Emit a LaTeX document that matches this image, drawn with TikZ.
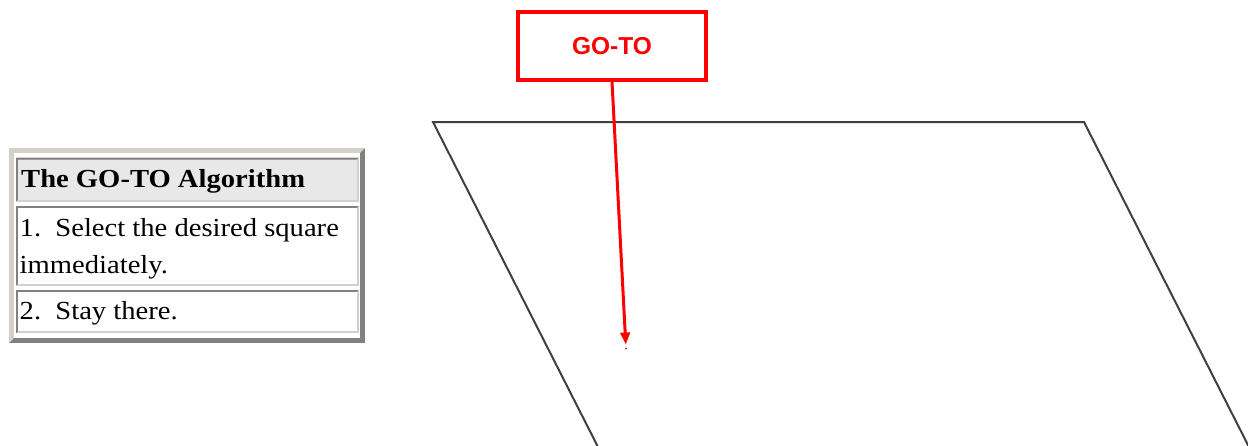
\documentclass[tikz,border=0pt]{standalone}
\usepackage{fontspec}
\setmainfont{Liberation Serif}[FakeStretch=1.1]
\newfontfamily\gotofont{Liberation Sans}
\usetikzlibrary{arrows.meta}
\definecolor{lightbd}{HTML}{D4D0C8}
\definecolor{darkbd}{HTML}{808080}
\definecolor{headfill}{HTML}{E8E8E8}
\definecolor{plane}{HTML}{404040}
\tikzset{
  celltext/.style={anchor=base west, inner sep=0pt, font=\fontsize{26}{31}\selectfont},
  gotobox/.style={draw=red, line width=3.5pt, minimum width=188pt, minimum height=68pt, inner sep=0pt,
    font=\gotofont\bfseries\fontsize{24.5}{28}\selectfont, text=red},
  gotoarrow/.style={draw=red, line width=3pt, -{Triangle[length=12pt,width=9.5pt]}},
  planeline/.style={draw=plane, line width=2pt, line join=miter},
}
\newcommand{\tblcell}[5]{%
  \fill[lightbd] (#1,#2) rectangle (#3,#4);
  \fill[darkbd] (#1,#2) -- (#3,#2) -- (#3-2,#2+2) -- (#1+2,#2+2) -- (#1+2,#4-2) -- (#1,#4) -- cycle;
  \fill[#5] (#1+2,#2+2) rectangle (#3-2,#4-2);}
\begin{document}
\begin{tikzpicture}[x=1pt,y=-1pt]
\useasboundingbox (0,0) rectangle (1248,445);
\clip (0,0) rectangle (1248,445);
% ---- table ----
\fill[darkbd] (9,148) rectangle (365,343);
\fill[lightbd] (9,148) -- (365,148) -- (360,153) -- (14,153) -- (14,338) -- (9,343) -- cycle;
\fill[white] (14,153) rectangle (360,338);
\tblcell{16}{157.5}{358.7}{201.7}{headfill}
\tblcell{16}{206}{358.7}{285.7}{white}
\tblcell{16}{290}{358.7}{333.3}{white}
\node[celltext, font=\bfseries\fontsize{26}{31}\selectfont] (head) at (21,187.5) {The GO-TO Algorithm};
\node[celltext] (step1a) at (19.5,236.5) {1.\ \ Select the desired square};
\node[celltext] (step1b) at (19.5,273) {immediately.};
\node[celltext] (step2) at (19.5,319.5) {2.\ \ Stay there.};
% ---- plane ----
\draw[planeline] (433,122) -- (1084,122) -- (1275.9,500) -- (624.9,500) -- cycle;
% ---- GO-TO box and arrow ----
\node[gotobox] (goto) at (612,46) {GO-TO};
\coordinate (tgt) at (626,348.5);
\fill[darkbd!70!black] (tgt) circle (1.2);
\draw[gotoarrow, shorten >=4pt] (goto.south) -- (tgt);
\end{tikzpicture}
\end{document}
